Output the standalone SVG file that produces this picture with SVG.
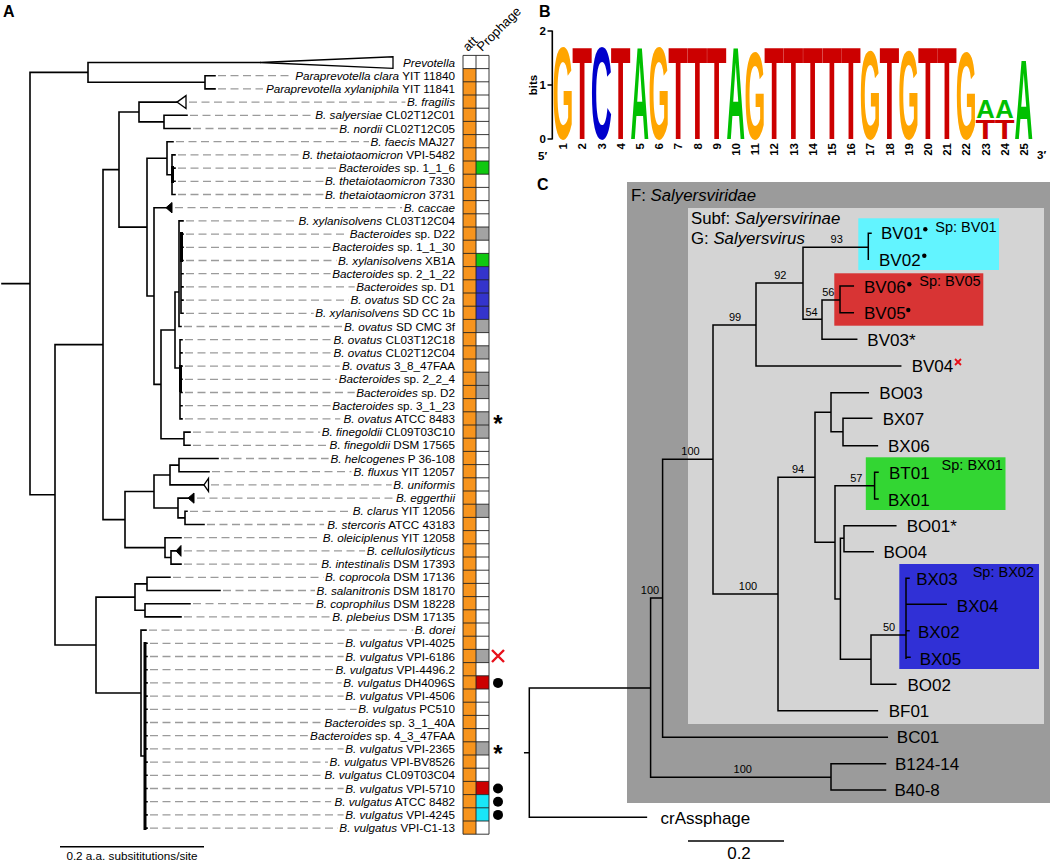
<svg xmlns="http://www.w3.org/2000/svg" width="1050" height="862" viewBox="0 0 1050 862">
<style>
text{font-family:"Liberation Sans",Arial,Helvetica,sans-serif;fill:#000}
.pl{font-size:16px;font-weight:bold}
.lb{font-size:11.7px}
.i{font-style:italic}
.tr{fill:none;stroke:#000;stroke-width:1.6;stroke-linecap:square}
.ld{fill:none;stroke:#9b9b9b;stroke-width:1.3;stroke-dasharray:8 4.5}
.tri{fill:#fff;stroke:#000;stroke-width:1.3}
.trf{fill:#000;stroke:#000;stroke-width:1}
.gl{fill:none;stroke:#222;stroke-width:0.9}
.lg{font-size:20px;font-weight:bold;text-anchor:middle}
.G{fill:#FFA500}.T{fill:#CC0000}.C{fill:#0000CC}.A{fill:#00C000}
.ax{font-size:11.5px;font-weight:bold}
.pn{font-size:11.5px;font-weight:bold;text-anchor:end}
.ct{fill:none;stroke:#000;stroke-width:1.5;stroke-linecap:square}
.cl{font-size:17px}
.hd{font-size:16.8px}
.bs{font-size:11px;text-anchor:middle}
.sp{font-size:14.5px}
</style>

<!-- Panel labels -->
<text class="pl" x="3" y="17">A</text>
<text class="pl" x="539" y="17">B</text>
<text class="pl" x="537" y="190">C</text>

<!-- ================= PANEL A ================= -->
<g id="a-connectors">
<path class="tr" d="M2,283.6H30M30,72.4V494.8M30,72.4H88M88,62.5V82.3M88,62.5H260M88,82.3H205M205,75.7V88.9M205,75.7H215M205,88.9H215
M30,494.8H55M55,344.6V645M55,344.6H103M103,169.6V519.6M103,169.6H119M119,112V227.1
M119,112H139M139,102.1V121.9M139,102.1H177M139,121.9H164M164,115.3V128.5M164,115.3H187M164,128.5H190
M119,227.1H147M147,158.2V296M147,158.2H167M167,141.7V174.7M167,141.7H173M167,174.7H172M172,154.9V194.5M172,154.9H175M172,168.1H175M172,181.3H175M172,194.5H175
M147,296H154M154,207.7V384.4M154,207.7H166M154,384.4H161M161,330V438.7M161,330H175M175,292V368
M175,292H179M179,220.9V326.5M179,220.9H183M179,326.5H181M181,234.1V313.3M181,234.1H183M181,247.3H183M181,260.5H183M181,273.7H183M181,286.9H183M181,300.1H183M181,313.3H183
M175,368H180M180,339.7V418.9M180,339.7H182M180,352.9H182M180,366.1H182M180,379.3H182M180,392.5H182M180,405.7H182M180,418.9H182
M161,438.7H184M184,432.1V445.3M184,432.1H190M184,445.3H190
M103,519.6H125M125,491.5V547.6M125,491.5H154M154,475V508M154,475H170M170,465.1V484.9M170,465.1H179M179,458.5V471.7M179,458.5H218M179,471.7H209M170,484.9H204
M154,508H178M178,498.1V517.9M178,498.1H188M178,517.9H185M185,511.3V524.5M185,511.3H187M185,524.5H204
M125,547.6H165M165,537.7V557.5M165,537.7H181M165,557.5H171M171,550.9V564.1M171,550.9H176M171,564.1H181
M55,645H96M96,597.1V693M96,597.1H135M135,583.9V610.3M135,583.9H147M147,577.3V590.5M147,577.3H170M147,590.5H220M135,610.3H145M145,603.7V616.9M145,603.7H190M145,616.9H181
M96,693H141M141,630.1V756M141,630.1H146M141,756H145M145,643.3V828.1
M145,643.3H147M145,656.5H147M145,669.7H147M145,682.9H147M145,696.1H147M145,709.3H147M145,722.5H147M145,735.7H147M145,748.9H147M145,762.1H147M145,775.3H147M145,788.5H147M145,801.7H147M145,814.9H147M145,828.1H147"/>
<path class="tr" style="stroke-width:3;stroke-linecap:butt" d="M172.5,166V183M181.5,232V262M180.5,365V392M145,642V830"/>
<polygon class="tri" points="260,62.5 393,56.8 393,68.4"/>
<polygon class="tri" points="177,102.1 186,95.6 186,108.6"/>
<polygon class="tri" points="204,484.9 208.5,478.4 208.5,491.4"/>
<polygon class="trf" points="166,207.7 172,202.5 172,212.9"/>
<polygon class="trf" points="188,498.1 194,493 194,503.2"/>
<polygon class="trf" points="176,550.9 181,545.5 181,556.3"/>
<path class="ld" d="M218,75.7H292.2M218,88.9H263M189,102.1H405.4M190,115.3H313.7M193,128.5H337.8M176,141.7H369M178,154.9H300.7M178,168.1H337.1M178,181.3H323.4M178,194.5H323.4M175,207.7H402.1M186,220.9H296.8M186,234.1H348.2M186,247.3H330.6M186,260.5H336.5M186,273.7H330.6M186,286.9H354.7M186,300.1H348.8M186,313.3H313.7M184,326.5H342.3M185,339.7H331.9M185,352.9H331.9M185,366.1H339.7M185,379.3H337.1M185,392.5H354.7M185,405.7H330.6M185,418.9H340.3M193,432.1H320.2M193,445.3H328M221,458.5H328.6M212,471.7H351.4M211,484.9H391.7M197,498.1H394.3M190,511.3H350.8M207,524.5H324.1M184,537.7H320.8M184,550.9H365.1M184,564.1H319.5M173,577.3H323.4M223,590.5H315M193,603.7H314.3M184,616.9H330.6M149,630.1H413.2M150,643.3H343.6M150,656.5H343.6M150,669.7H333.8M150,682.9H341.6M150,696.1H343.6M150,709.3H356.6M150,722.5H322.8M150,735.7H307.8M150,748.9H343.6M150,762.1H328M150,775.3H322.8M150,788.5H343.6M150,801.7H331.2M150,814.9H343.6M150,828.1H337.8"/>
</g>

<g id="a-labels" class="lb" text-anchor="end">
<g id="a-r1"><text x="455" y="66.5"><tspan class="i">Prevotella</tspan></text></g>
<g id="a-r2"><text x="455" y="79.7"><tspan class="i">Paraprevotella clara</tspan> YIT 11840</text></g>
<g id="a-r3"><text x="455" y="92.9"><tspan class="i">Paraprevotella xylaniphila</tspan> YIT 11841</text></g>
<g id="a-r4"><text x="455" y="106.1"><tspan class="i">B. fragilis</tspan></text></g>
<g id="a-r5"><text x="455" y="119.3"><tspan class="i">B. salyersiae</tspan> CL02T12C01</text></g>
<g id="a-r6"><text x="455" y="132.5"><tspan class="i">B. nordii</tspan> CL02T12C05</text></g>
<g id="a-r7"><text x="455" y="145.7"><tspan class="i">B. faecis</tspan> MAJ27</text></g>
<g id="a-r8"><text x="455" y="158.9"><tspan class="i">B. thetaiotaomicron</tspan> VPI-5482</text></g>
<g id="a-r9"><text x="455" y="172.1"><tspan class="i">Bacteroides</tspan> sp. 1_1_6</text></g>
<g id="a-r10"><text x="455" y="185.3"><tspan class="i">B. thetaiotaomicron</tspan> 7330</text></g>
<g id="a-r11"><text x="455" y="198.5"><tspan class="i">B. thetaiotaomicron</tspan> 3731</text></g>
<g id="a-r12"><text x="455" y="211.7"><tspan class="i">B. caccae</tspan></text></g>
<g id="a-r13"><text x="455" y="224.9"><tspan class="i">B. xylanisolvens</tspan> CL03T12C04</text></g>
<g id="a-r14"><text x="455" y="238.1"><tspan class="i">Bacteroides</tspan> sp. D22</text></g>
<g id="a-r15"><text x="455" y="251.3"><tspan class="i">Bacteroides</tspan> sp. 1_1_30</text></g>
<g id="a-r16"><text x="455" y="264.5"><tspan class="i">B. xylanisolvens</tspan> XB1A</text></g>
<g id="a-r17"><text x="455" y="277.7"><tspan class="i">Bacteroides</tspan> sp. 2_1_22</text></g>
<g id="a-r18"><text x="455" y="290.9"><tspan class="i">Bacteroides</tspan> sp. D1</text></g>
<g id="a-r19"><text x="455" y="304.1"><tspan class="i">B. ovatus</tspan> SD CC 2a</text></g>
<g id="a-r20"><text x="455" y="317.3"><tspan class="i">B. xylanisolvens</tspan> SD CC 1b</text></g>
<g id="a-r21"><text x="455" y="330.5"><tspan class="i">B. ovatus</tspan> SD CMC 3f</text></g>
<g id="a-r22"><text x="455" y="343.7"><tspan class="i">B. ovatus</tspan> CL03T12C18</text></g>
<g id="a-r23"><text x="455" y="356.9"><tspan class="i">B. ovatus</tspan> CL02T12C04</text></g>
<g id="a-r24"><text x="455" y="370.1"><tspan class="i">B. ovatus</tspan> 3_8_47FAA</text></g>
<g id="a-r25"><text x="455" y="383.3"><tspan class="i">Bacteroides</tspan> sp. 2_2_4</text></g>
<g id="a-r26"><text x="455" y="396.5"><tspan class="i">Bacteroides</tspan> sp. D2</text></g>
<g id="a-r27"><text x="455" y="409.7"><tspan class="i">Bacteroides</tspan> sp. 3_1_23</text></g>
<g id="a-r28"><text x="455" y="422.9"><tspan class="i">B. ovatus</tspan> ATCC 8483</text></g>
<g id="a-r29"><text x="455" y="436.1"><tspan class="i">B. finegoldii</tspan> CL09T03C10</text></g>
<g id="a-r30"><text x="455" y="449.3"><tspan class="i">B. finegoldii</tspan> DSM 17565</text></g>
<g id="a-r31"><text x="455" y="462.5"><tspan class="i">B. helcogenes</tspan> P 36-108</text></g>
<g id="a-r32"><text x="455" y="475.7"><tspan class="i">B. fluxus</tspan> YIT 12057</text></g>
<g id="a-r33"><text x="455" y="488.9"><tspan class="i">B. uniformis</tspan></text></g>
<g id="a-r34"><text x="455" y="502.1"><tspan class="i">B. eggerthii</tspan></text></g>
<g id="a-r35"><text x="455" y="515.3"><tspan class="i">B. clarus</tspan> YIT 12056</text></g>
<g id="a-r36"><text x="455" y="528.5"><tspan class="i">B. stercoris</tspan> ATCC 43183</text></g>
<g id="a-r37"><text x="455" y="541.7"><tspan class="i">B. oleiciplenus</tspan> YIT 12058</text></g>
<g id="a-r38"><text x="455" y="554.9"><tspan class="i">B. cellulosilyticus</tspan></text></g>
<g id="a-r39"><text x="455" y="568.1"><tspan class="i">B. intestinalis</tspan> DSM 17393</text></g>
<g id="a-r40"><text x="455" y="581.3"><tspan class="i">B. coprocola</tspan> DSM 17136</text></g>
<g id="a-r41"><text x="455" y="594.5"><tspan class="i">B. salanitronis</tspan> DSM 18170</text></g>
<g id="a-r42"><text x="455" y="607.7"><tspan class="i">B. coprophilus</tspan> DSM 18228</text></g>
<g id="a-r43"><text x="455" y="620.9"><tspan class="i">B. plebeius</tspan> DSM 17135</text></g>
<g id="a-r44"><text x="455" y="634.1"><tspan class="i">B. dorei</tspan></text></g>
<g id="a-r45"><text x="455" y="647.3"><tspan class="i">B. vulgatus</tspan> VPI-4025</text></g>
<g id="a-r46"><text x="455" y="660.5"><tspan class="i">B. vulgatus</tspan> VPI-6186</text></g>
<g id="a-r47"><text x="455" y="673.7"><tspan class="i">B. vulgatus</tspan> VPI-4496.2</text></g>
<g id="a-r48"><text x="455" y="686.9"><tspan class="i">B. vulgatus</tspan> DH4096S</text></g>
<g id="a-r49"><text x="455" y="700.1"><tspan class="i">B. vulgatus</tspan> VPI-4506</text></g>
<g id="a-r50"><text x="455" y="713.3"><tspan class="i">B. vulgatus</tspan> PC510</text></g>
<g id="a-r51"><text x="455" y="726.5"><tspan class="i">Bacteroides</tspan> sp. 3_1_40A</text></g>
<g id="a-r52"><text x="455" y="739.7"><tspan class="i">Bacteroides</tspan> sp. 4_3_47FAA</text></g>
<g id="a-r53"><text x="455" y="752.9"><tspan class="i">B. vulgatus</tspan> VPI-2365</text></g>
<g id="a-r54"><text x="455" y="766.1"><tspan class="i">B. vulgatus</tspan> VPI-BV8526</text></g>
<g id="a-r55"><text x="455" y="779.3"><tspan class="i">B. vulgatus</tspan> CL09T03C04</text></g>
<g id="a-r56"><text x="455" y="792.5"><tspan class="i">B. vulgatus</tspan> VPI-5710</text></g>
<g id="a-r57"><text x="455" y="805.7"><tspan class="i">B. vulgatus</tspan> ATCC 8482</text></g>
<g id="a-r58"><text x="455" y="818.9"><tspan class="i">B. vulgatus</tspan> VPI-4245</text></g>
<g id="a-r59"><text x="455" y="832.1"><tspan class="i">B. vulgatus</tspan> VPI-C1-13</text></g>
</g>

<g id="a-grid">
<rect x="463" y="55.4" width="26" height="778.8" fill="#fff"/>
<rect x="463" y="68.6" width="13" height="765.6" fill="#F7941D"/>
<rect x="476" y="161" width="13" height="13.2" fill="#10C810"/>
<rect x="476" y="253.4" width="13" height="13.2" fill="#10C810"/>
<rect x="476" y="266.6" width="13" height="52.8" fill="#3434CC"/>
<g fill="#A3A3A3">
<rect x="476" y="227" width="13" height="13.2"/>
<rect x="476" y="319.4" width="13" height="13.2"/>
<rect x="476" y="345.8" width="13" height="13.2"/>
<rect x="476" y="372.2" width="13" height="26.4"/>
<rect x="476" y="411.8" width="13" height="26.4"/>
<rect x="476" y="504.2" width="13" height="13.2"/>
<rect x="476" y="649.4" width="13" height="13.2"/>
<rect x="476" y="741.8" width="13" height="13.2"/>
</g>
<rect x="476" y="675.8" width="13" height="13.2" fill="#CC0000"/>
<rect x="476" y="781.4" width="13" height="13.2" fill="#CC0000"/>
<rect x="476" y="794.6" width="13" height="26.4" fill="#19E6F8"/>
<path class="gl" d="M463,55.4V834.2M476,55.4V834.2M489,55.4V834.2M463,55.4H489M463,68.6H489M463,81.8H489M463,95H489M463,108.2H489M463,121.4H489M463,134.6H489M463,147.8H489M463,161H489M463,174.2H489M463,187.4H489M463,200.6H489M463,213.8H489M463,227H489M463,240.2H489M463,253.4H489M463,266.6H489M463,279.8H489M463,293H489M463,306.2H489M463,319.4H489M463,332.6H489M463,345.8H489M463,359H489M463,372.2H489M463,385.4H489M463,398.6H489M463,411.8H489M463,425H489M463,438.2H489M463,451.4H489M463,464.6H489M463,477.8H489M463,491H489M463,504.2H489M463,517.4H489M463,530.6H489M463,543.8H489M463,557H489M463,570.2H489M463,583.4H489M463,596.6H489M463,609.8H489M463,623H489M463,636.2H489M463,649.4H489M463,662.6H489M463,675.8H489M463,689H489M463,702.2H489M463,715.4H489M463,728.6H489M463,741.8H489M463,755H489M463,768.2H489M463,781.4H489M463,794.6H489M463,807.8H489M463,821H489M463,834.2H489"/>
<text x="468" y="52" font-size="13" transform="rotate(-45 468 52)">att</text>
<text x="482" y="52" font-size="13" transform="rotate(-45 482 52)">Prophage</text>
</g>

<g id="a-marks">
<text x="498" y="432" font-size="24" font-weight="bold" text-anchor="middle">*</text>
<text x="498" y="762" font-size="24" font-weight="bold" text-anchor="middle">*</text>
<path d="M492,650L504,662M504,650L492,662" stroke="#E8101A" stroke-width="2.4" fill="none"/>
<circle cx="498" cy="682.9" r="5"/>
<circle cx="498" cy="788.5" r="5"/>
<circle cx="498" cy="801.7" r="5"/>
<circle cx="498" cy="814.9" r="5"/>
</g>

<g id="a-scale">
<path class="tr" style="stroke-linecap:butt" d="M60,846.7H204"/>
<text x="132" y="860" class="lb" text-anchor="middle">0.2 a.a. subsititutions/site</text>
</g>

<!-- ================= PANEL B ================= -->
<g id="b-axis">
<path class="tr" style="stroke-linecap:butt" d="M552.3,30.5V139.5M547.5,31H552.3M547.5,85H552.3M547.5,139H552.3"/>
<text class="ax" x="546" y="35" text-anchor="end">2</text>
<text class="ax" x="546" y="89" text-anchor="end">1</text>
<text class="ax" x="546" y="143" text-anchor="end">0</text>
<text class="ax" font-size="11" text-anchor="middle" transform="translate(537,85) rotate(-90)">bits</text>
<text class="ax" x="538" y="160">5′</text>
<text class="ax" x="1037" y="159">3′</text>
</g>
<g id="b-logo">
<text class="lg G" transform="translate(563,139) scale(1.34,6.63)">G</text>
<text class="lg T" transform="translate(582.2,139) scale(1.62,6.56)">T</text>
<text class="lg C" transform="translate(601.4,139) scale(1.47,6.63)">C</text>
<text class="lg T" transform="translate(620.6,139) scale(1.62,6.56)">T</text>
<text class="lg A" transform="translate(639.8,139) scale(1.28,6.56)">A</text>
<text class="lg G" transform="translate(659,139) scale(1.34,6.56)">G</text>
<text class="lg T" transform="translate(678.2,139) scale(1.62,6.56)">T</text>
<text class="lg T" transform="translate(697.4,139) scale(1.62,6.56)">T</text>
<text class="lg T" transform="translate(716.6,139) scale(1.62,6.56)">T</text>
<text class="lg A" transform="translate(735.8,139) scale(1.28,6.56)">A</text>
<text class="lg G" transform="translate(755,139) scale(1.34,6.2)">G</text>
<text class="lg T" transform="translate(774.2,139) scale(1.62,6.56)">T</text>
<text class="lg T" transform="translate(793.4,139) scale(1.62,6.56)">T</text>
<text class="lg T" transform="translate(812.6,139) scale(1.62,6.56)">T</text>
<text class="lg T" transform="translate(831.8,139) scale(1.62,6.56)">T</text>
<text class="lg T" transform="translate(851,139) scale(1.62,6.56)">T</text>
<text class="lg G" transform="translate(870.2,139) scale(1.34,6.35)">G</text>
<text class="lg T" transform="translate(889.4,139) scale(1.62,6.56)">T</text>
<text class="lg G" transform="translate(908.6,139) scale(1.34,6.35)">G</text>
<text class="lg T" transform="translate(927.8,139) scale(1.62,6.56)">T</text>
<text class="lg T" transform="translate(947,139) scale(1.62,6.56)">T</text>
<text class="lg G" transform="translate(966.2,139) scale(1.34,6.2)">G</text>
<text class="lg T" transform="translate(985.4,139) scale(1.62,1.4)">T</text>
<text class="lg A" transform="translate(985.4,118) scale(1.28,1.33)">A</text>
<text class="lg T" transform="translate(1004.6,139) scale(1.62,1.4)">T</text>
<text class="lg A" transform="translate(1004.6,118) scale(1.28,1.33)">A</text>
<text class="lg A" transform="translate(1023.8,139) scale(1.28,5.66)">A</text>
</g>
<g id="b-positions">
<text class="pn" transform="translate(567.2,143) rotate(-90)">1</text>
<text class="pn" transform="translate(586.4,143) rotate(-90)">2</text>
<text class="pn" transform="translate(605.6,143) rotate(-90)">3</text>
<text class="pn" transform="translate(624.8,143) rotate(-90)">4</text>
<text class="pn" transform="translate(644,143) rotate(-90)">5</text>
<text class="pn" transform="translate(663.2,143) rotate(-90)">6</text>
<text class="pn" transform="translate(682.4,143) rotate(-90)">7</text>
<text class="pn" transform="translate(701.6,143) rotate(-90)">8</text>
<text class="pn" transform="translate(720.8,143) rotate(-90)">9</text>
<text class="pn" transform="translate(740,143) rotate(-90)">10</text>
<text class="pn" transform="translate(759.2,143) rotate(-90)">11</text>
<text class="pn" transform="translate(778.4,143) rotate(-90)">12</text>
<text class="pn" transform="translate(797.6,143) rotate(-90)">13</text>
<text class="pn" transform="translate(816.8,143) rotate(-90)">14</text>
<text class="pn" transform="translate(836,143) rotate(-90)">15</text>
<text class="pn" transform="translate(855.2,143) rotate(-90)">16</text>
<text class="pn" transform="translate(874.4,143) rotate(-90)">17</text>
<text class="pn" transform="translate(893.6,143) rotate(-90)">18</text>
<text class="pn" transform="translate(912.8,143) rotate(-90)">19</text>
<text class="pn" transform="translate(932,143) rotate(-90)">20</text>
<text class="pn" transform="translate(951.2,143) rotate(-90)">21</text>
<text class="pn" transform="translate(970.4,143) rotate(-90)">22</text>
<text class="pn" transform="translate(989.6,143) rotate(-90)">23</text>
<text class="pn" transform="translate(1008.8,143) rotate(-90)">24</text>
<text class="pn" transform="translate(1028,143) rotate(-90)">25</text>
</g>

<!-- ================= PANEL C ================= -->
<g id="c-boxes">
<rect id="c-family" x="627" y="182" width="423" height="621" fill="#9B9B9B"/>
<rect id="c-subfamily" x="688" y="208" width="356" height="516" fill="#D4D4D4"/>
<rect x="858.3" y="218.3" width="140.7" height="51.7" fill="#62F4FF"/>
<rect x="834.3" y="273.3" width="149" height="52.4" fill="#D83434"/>
<rect x="865.8" y="457.3" width="139.7" height="52.7" fill="#33D633"/>
<rect x="899.3" y="564" width="139.7" height="105" fill="#3030D6"/>
<text class="hd" x="631" y="200.5">F: <tspan class="i">Salyersviridae</tspan></text>
<text class="hd" x="691" y="224">Subf: <tspan class="i">Salyersvirinae</tspan></text>
<text class="hd" x="691" y="244">G: <tspan class="i">Salyersvirus</tspan></text>
<text class="sp" x="935.3" y="231.7">Sp: BV01</text>
<text class="sp" x="919.3" y="286">Sp: BV05</text>
<text class="sp" x="941.6" y="470">Sp: BX01</text>
<text class="sp" x="972.7" y="576.7">Sp: BX02</text>
</g>

<g id="c-connectors">
<path class="ct" d="M524.7,752.7H529.3M529.3,688V817.3M529.3,817.3H646.4M529.3,688H650.6
M650.6,598V777.3M650.6,777.3H831M831,763.7V790M831,763.7H885.5M831,790H885.5
M650.6,598H662.6M662.6,459.3V737.3M662.6,737.3H887.3
M662.6,459.3H713M713,325V594
M713,325H756M756,283V366M756,366H900.7
M756,283H803M803,247.3V319.3
M803,247.3H868.3M868.3,233.3V259.3M868.3,233.3H871
M803,319.3H822M822,300V339.3M822,339.3H856.7
M822,300H840M840,286V312.7M840,286H853.3M840,312.7H853.3
M713,594H778M778,477.3V710.7M778,710.7H877.4
M778,477.3H815M815,412.3V542.3
M815,412.3H831M831,392.7V431.7M831,392.7H868.3M831,431.7H843M843,418.3V445.7M843,418.3H871.7M843,445.7H877.4
M815,542.3H835M835,485.7V599
M835,485.7H874.6M874.6,472.3V499M874.6,472.3H878M874.6,499H878
M835,599H840.4M840.4,538.3V659.3
M840.4,538.3H844M844,525.7V551.7M844,525.7H895.8M844,551.7H873.2
M840.4,659.3H871M871,635V684.3M871,684.3H895.8M871,635H906
M906,578.3V658.3M906,578.3H909M906,604.3H946.2M906,630.7H909M906,657.3H910"/>
</g>

<g id="c-support" class="bs">
<text x="836.7" y="242.7">93</text>
<text x="780.3" y="279">92</text>
<text x="735" y="320.7">99</text>
<text x="828.3" y="295.7">56</text>
<text x="811.5" y="315.7">54</text>
<text x="690.5" y="455">100</text>
<text x="798" y="473">94</text>
<text x="856.3" y="481.7">57</text>
<text x="748" y="590">100</text>
<text x="650" y="594">100</text>
<text x="889" y="631">50</text>
<text x="742.7" y="773.3">100</text>
</g>

<g id="c-leaves" class="cl">
<g id="c-BV01"><text x="881" y="239.3">BV01</text><circle cx="925.3" cy="229.3" r="2.2"/></g>
<g id="c-BV02"><text x="879" y="266">BV02</text><circle cx="924.3" cy="255.7" r="2.2"/></g>
<g id="c-BV06"><text x="864" y="293.3">BV06</text><circle cx="909.3" cy="284.3" r="2.2"/></g>
<g id="c-BV05"><text x="864" y="318.7">BV05</text><circle cx="908.3" cy="310" r="2.2"/></g>
<g id="c-BV03"><text x="867.3" y="346">BV03*</text></g>
<g id="c-BV04"><text x="911.7" y="371.7">BV04</text><path d="M955,359L961,365M961,359L955,365" stroke="#E8101A" stroke-width="1.8"/></g>
<g id="c-BO03"><text x="879.3" y="399.3">BO03</text></g>
<g id="c-BX07"><text x="882.7" y="425">BX07</text></g>
<g id="c-BX06"><text x="888" y="451.7">BX06</text></g>
<g id="c-BT01"><text x="889" y="479.3">BT01</text></g>
<g id="c-BX01"><text x="888" y="505.7">BX01</text></g>
<g id="c-BO01"><text x="906.7" y="531.7">BO01*</text></g>
<g id="c-BO04"><text x="883.4" y="557.7">BO04</text></g>
<g id="c-BX03"><text x="916.2" y="585">BX03</text></g>
<g id="c-BX04"><text x="956.8" y="611.7">BX04</text></g>
<g id="c-BX02"><text x="918" y="638.3">BX02</text></g>
<g id="c-BX05"><text x="919.7" y="665">BX05</text></g>
<g id="c-BO02"><text x="907.4" y="690.7">BO02</text></g>
<g id="c-BF01"><text x="888.7" y="717.3">BF01</text></g>
<g id="c-BC01"><text x="896.8" y="743">BC01</text></g>
<g id="c-B124-14"><text x="895" y="770">B124-14</text></g>
<g id="c-B40-8"><text x="894.4" y="796">B40-8</text></g>
<g id="c-crAss"><text x="660.5" y="824">crAssphage</text></g>
</g>

<g id="c-scale">
<path class="ct" style="stroke-linecap:butt" d="M688,841H784"/>
<text class="cl" x="739" y="859" text-anchor="middle">0.2</text>
</g>
</svg>
